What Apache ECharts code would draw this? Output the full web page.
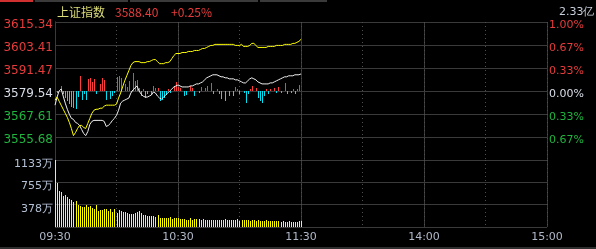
<!DOCTYPE html>
<html><head><meta charset="utf-8">
<script src="https://cdn.jsdelivr.net/npm/echarts@6/dist/echarts.min.js"></script>
<style>html,body{margin:0;padding:0;background:#000;}#c{width:596px;height:249px;}</style>
</head><body><div id="c"></div>
<script>
const indexName = '上证指数';
const preClose = 3579.54;
const lastPrice = '3588.40';
const lastPct = '+0.25%';
const turnover = '2.33亿';
const timeLabels = ['09:30','10:30','11:30','14:00','15:00'];
const priceLabels = ['', '3555.68','3567.61','3579.54','3591.47','3603.41','3615.34'];
const pctLabels = ['', '0.67%','0.33%','0.00%','0.33%','0.67%','1.00%'];
const volLabels = ['', '378万','755万','1133万'];

// white line: index price per minute 09:30-11:30
const indexLine = [
3572.18,3576.39,3579.54,3580.59,3576.91,3573.23,3570.08,3567.45,3565.35,3564.82,
3563.25,3562.72,3561.67,3559.57,3557.46,3556.41,3558.51,3562.19,3563.77,3564.30,
3564.30,3564.30,3564.30,3564.30,3563.77,3561.14,3561.67,3562.72,3564.30,3565.35,
3566.93,3569.55,3573.23,3574.28,3574.81,3575.34,3575.86,3578.49,3580.07,3581.12,
3582.17,3579.54,3577.96,3576.91,3576.39,3576.39,3576.91,3577.44,3579.01,3578.49,
3576.91,3575.86,3575.34,3576.39,3577.44,3578.49,3579.54,3580.59,3581.64,3582.17,
3582.69,3582.17,3581.64,3581.64,3581.64,3581.64,3582.17,3582.17,3582.69,3583.22,
3583.22,3583.74,3584.27,3585.32,3586.37,3586.90,3587.42,3587.95,3587.95,3587.95,
3587.42,3586.90,3586.90,3586.37,3586.37,3585.85,3585.85,3585.85,3585.32,3585.32,
3584.80,3584.27,3583.74,3583.74,3584.80,3585.85,3586.37,3585.85,3585.32,3584.27,
3583.74,3583.22,3583.22,3583.22,3583.22,3583.74,3583.74,3584.27,3584.80,3585.32,
3585.85,3586.37,3586.90,3586.90,3587.42,3587.42,3587.42,3587.95,3587.95,3587.95,
3588.40];

// yellow line per minute
const avgLine = [
3574.81,3576.39,3574.28,3572.18,3570.08,3567.98,3565.87,3563.25,3560.09,3556.41,
3557.99,3560.09,3561.67,3561.67,3560.62,3560.09,3562.72,3565.35,3567.98,3569.55,
3570.08,3570.08,3570.61,3570.61,3571.66,3572.18,3572.18,3572.18,3572.18,3572.18,
3572.71,3575.86,3578.49,3581.64,3584.80,3587.42,3590.05,3592.68,3594.26,3594.78,
3594.78,3594.78,3594.26,3594.26,3594.26,3594.78,3594.78,3595.31,3595.83,3595.83,
3594.78,3593.73,3593.73,3593.73,3594.26,3594.26,3594.78,3596.36,3597.94,3598.99,
3598.99,3598.99,3599.51,3599.51,3599.51,3600.04,3600.04,3600.04,3600.56,3600.56,
3600.56,3601.09,3601.62,3601.62,3602.14,3602.67,3603.19,3603.19,3603.72,3603.72,
3603.72,3603.72,3603.72,3603.72,3603.72,3603.72,3603.72,3603.72,3603.19,3603.19,
3603.19,3603.72,3602.67,3602.67,3602.67,3603.19,3604.24,3604.24,3603.19,3602.14,
3602.14,3602.14,3602.14,3602.14,3602.67,3602.67,3602.67,3602.67,3603.19,3603.19,
3603.19,3603.19,3603.72,3603.72,3603.72,3603.72,3604.24,3604.24,3604.77,3605.29,
3606.35];

// red (+) / cyan (-) strength bars per minute
const strength = [
0,-2,0,5,-3,-7,-10,-13,-16,-17,
-18,-6,15,-9,-3,-9,12,13,9,12,
-3,0,7,13,11,-9,0,-8,-5,-2,
14,15,13,0,7,4,10,-1,18,10,
11,3,-5,2,-7,-3,0,-4,5,3,
3,-10,-9,-7,-4,2,-2,0,5,9,
4,3,0,-5,-4,0,5,3,-5,0,
-2,4,0,3,5,0,8,-3,0,2,
-3,-8,0,-10,0,-5,0,-5,4,2,
-3,0,-2,-12,-3,2,5,0,3,-7,
-10,-12,-5,2,-3,2,0,3,-2,4,
-2,0,8,-3,0,-2,2,-3,2,6,
0];

// volume per minute (万)
const volume = [
1133,740,610,585,530,540,510,475,455,430,
445,375,360,345,330,370,345,360,315,300,
370,270,290,285,310,300,270,300,250,310,
240,280,270,250,260,230,220,225,220,230,
260,275,230,205,200,190,185,180,190,170,
200,155,150,145,150,145,165,140,150,150,
145,140,130,135,125,120,150,120,130,130,
130,120,130,120,115,125,115,120,115,115,
115,125,110,130,120,115,115,110,110,135,
105,115,110,120,115,105,110,115,105,110,
100,105,100,110,100,95,100,95,95,100,
90,95,90,90,95,90,90,90,85,95,
95];

const RED = '#e63c3c', GREEN = '#1fb53f', WHITE = '#d8dde8', GRID = '#3a3a3a', DOT = '#4e4e4e';
const FONT = 'DejaVu Sans';
const lo = preClose * 0.99, hi = preClose * 1.01;

const chart = echarts.init(document.getElementById('c'), null, {renderer: 'canvas'});
const solidX = (gi, labels) => ({
  type: 'value', gridIndex: gi, min: 0, max: 240, interval: 60,
  axisLine: {show: false}, axisTick: {show: false},
  axisLabel: labels ? {show: true, margin: 5, color: '#b0b8c8', fontSize: 11, fontFamily: FONT,
    formatter: v => timeLabels[Math.round(v / 60)] || ''} : {show: false},
  splitLine: {show: true, lineStyle: {color: GRID, width: 1}}
});
const dotX = gi => ({
  type: 'value', gridIndex: gi, min: 0, max: 240, interval: 30,
  axisLine: {show: false}, axisTick: {show: false}, axisLabel: {show: false},
  splitLine: {show: true, lineStyle: {color: DOT, width: 1, type: [1, 3]}}
});
const mk = (size, pad) => ({
  r: {color: RED, fontSize: size, fontFamily: FONT, padding: [pad, 0, 0, 0]},
  g: {color: GREEN, fontSize: size, fontFamily: FONT, padding: [pad, 0, 0, 0]},
  w: {color: WHITE, fontSize: size, fontFamily: FONT, padding: [pad, 0, 0, 0]},
  v: {color: '#b4c0d4', fontSize: size, fontFamily: FONT, padding: [pad, 0, 0, 0]}
});
const cls = i => i > 3 ? 'r' : (i < 3 ? 'g' : 'w');

// crisp 1px bars positioned through the axis scales
const crispBar = colorFn => (params, api) => {
  const x = api.value(0), v = api.value(1);
  const p0 = api.coord([x, 0]), p1 = api.coord([x, v]);
  const px = Math.round(p0[0]);
  const y0 = Math.round(p0[1]), y1 = Math.round(p1[1]);
  return {type: 'rect', shape: {x: px, y: Math.min(y0, y1), width: 1, height: Math.abs(y1 - y0)},
          style: {fill: colorFn(v), stroke: null}};
};

chart.setOption({
  backgroundColor: '#000',
  animation: false,
  grid: [
    {left: 55, right: 49, top: 22, height: 138},
    {left: 55, right: 49, top: 160, height: 67}
  ],
  xAxis: [solidX(0, false), dotX(0), solidX(1, true), dotX(1)],
  yAxis: [
    {type: 'value', gridIndex: 0, position: 'left', min: -3, max: 3, interval: 1,
     axisLine: {show: true, lineStyle: {color: GRID}}, axisTick: {show: false},
     axisLabel: {margin: 2, rich: mk(12, 6),
       formatter: v => { const i = Math.round(v + 3); return priceLabels[i] ? '{' + cls(i) + '|' + priceLabels[i] + '}' : ''; }},
     splitLine: {show: true, lineStyle: {color: GRID, width: 1}}},
    {type: 'value', gridIndex: 0, position: 'right', min: -3, max: 3, interval: 1,
     axisLine: {show: true, lineStyle: {color: GRID}}, axisTick: {show: false},
     axisLabel: {margin: 2, rich: mk(11, 6),
       formatter: v => { const i = Math.round(v + 3); return pctLabels[i] ? '{' + cls(i) + '|' + pctLabels[i] + '}' : ''; }},
     splitLine: {show: false}},
    {type: 'value', gridIndex: 0, show: false, min: lo, max: hi},
    {type: 'value', gridIndex: 0, show: false, min: -69, max: 69},
    {type: 'value', gridIndex: 1, position: 'left', min: 0, max: 3, interval: 1,
     axisLine: {show: true, lineStyle: {color: GRID}}, axisTick: {show: false},
     axisLabel: {margin: 2, rich: mk(11, 8),
       formatter: v => volLabels[Math.round(v)] ? '{v|' + volLabels[Math.round(v)] + '}' : ''},
     splitLine: {show: true, lineStyle: {color: GRID, width: 1}}},
    {type: 'value', gridIndex: 1, position: 'right', min: 0, max: 3, interval: 1,
     axisLine: {show: true, lineStyle: {color: GRID}}, axisTick: {show: false},
     axisLabel: {show: false}, splitLine: {show: false}},
    {type: 'value', gridIndex: 1, show: false, min: 0, max: 1133}
  ],
  series: [
    {type: 'custom', xAxisIndex: 0, yAxisIndex: 3, z: 2,
     renderItem: crispBar(v => v >= 0 ? '#ff3c3c' : '#00e0f0'),
     data: strength.map((v, i) => [i, v])},
    {type: 'line', xAxisIndex: 0, yAxisIndex: 2, showSymbol: false, z: 3,
     lineStyle: {color: '#f0f0f0', width: 1}, data: indexLine.map((v, i) => [i, v])},
    {type: 'line', xAxisIndex: 0, yAxisIndex: 2, showSymbol: false, z: 4,
     lineStyle: {color: '#ffff00', width: 1}, data: avgLine.map((v, i) => [i, v])},
    {type: 'custom', xAxisIndex: 2, yAxisIndex: 6,
     renderItem: crispBar(() => '#ffff00'),
     data: volume.map((v, i) => [i, v])}
  ],
  graphic: [
    {type: 'rect', shape: {x: 0, y: 0, width: 33, height: 2}, style: {fill: '#d03030'}},
    {type: 'rect', shape: {x: 35, y: 0, width: 93, height: 2}, style: {fill: '#3a3a3a'}},
    {type: 'rect', shape: {x: 130, y: 0, width: 128, height: 2}, style: {fill: '#3a3a3a'}},
    {type: 'rect', shape: {x: 260, y: 0, width: 67, height: 2}, style: {fill: '#3a3a3a'}},
    {type: 'rect', shape: {x: 0, y: 247, width: 596, height: 2}, style: {fill: '#2e2e2e'}},
    {type: 'text', left: 57, top: 6, style: {text: indexName, fill: '#dcdc78', font: '12px "Noto Sans CJK SC"'}},
    {type: 'text', left: 115, top: 6, style: {text: lastPrice, fill: RED, font: '12px "Noto Sans CJK SC"'}},
    {type: 'text', left: 171, top: 6, style: {text: lastPct, fill: RED, font: '12px "Noto Sans CJK SC"'}},
    {type: 'text', left: 559, top: 7, style: {text: turnover, fill: '#c8d0dc', font: '11px "DejaVu Sans"'}}
  ]
});
</script></body></html>
